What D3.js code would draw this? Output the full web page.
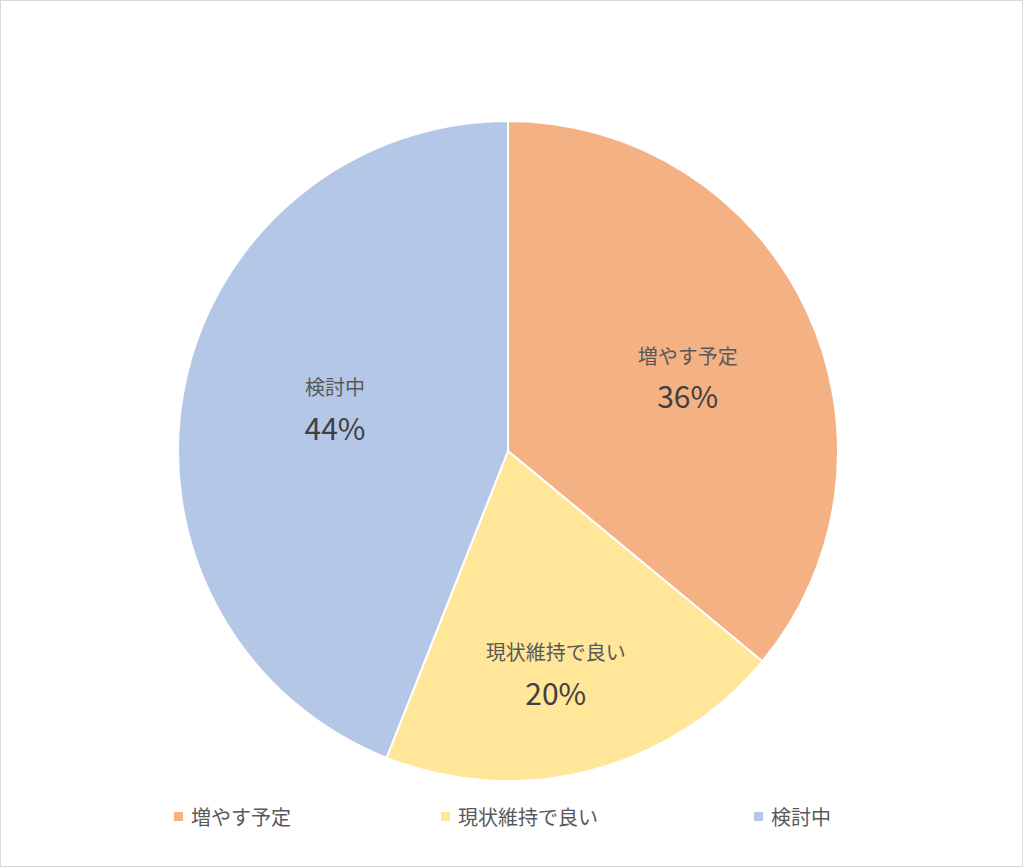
<!DOCTYPE html>
<html><head><meta charset="utf-8">
<script src="https://cdn.jsdelivr.net/npm/d3@7"></script>
<style>body{margin:0;background:#fff;}svg{display:block;font-family:"Noto Sans CJK JP","Noto Sans",sans-serif;}</style>
</head><body>
<svg id="c" width="1024" height="868"></svg>
<script>
const categories = ["増やす予定", "現状維持で良い", "検討中"];
const values = [36, 20, 44];
const colors = ["#F4B183", "#FFE699", "#B4C7E7"];
// label layout (radius as fraction of pie radius, angular nudge in degrees)
const labelRadiusRatio = [0.591, 0.685, 0.541];
const labelAngleNudge = [2.3, 2.2, 3.5];
const legendX = [174, 441, 754];

const svg = d3.select("#c");
svg.append("rect").attr("x",0.5).attr("y",0.5).attr("width",1022).attr("height",866)
  .attr("fill","#fff").attr("stroke","#d9d9d9");

const cx = 508, cy = 451, R = 330;
const pie = d3.pie().sort(null).value(d=>d)(values);
const arc = d3.arc().innerRadius(0).outerRadius(R);
const g = svg.append("g").attr("transform",`translate(${cx},${cy})`);
g.selectAll("path").data(pie).join("path")
  .attr("d",arc).attr("fill",(d,i)=>colors[i]).attr("stroke","#fff").attr("stroke-width",2);

pie.forEach((d,i)=>{
  const r = R*labelRadiusRatio[i];
  const a = (d.startAngle+d.endAngle)/2 + labelAngleNudge[i]*Math.PI/180;
  const x = r*Math.sin(a), y = -r*Math.cos(a);
  g.append("text").attr("x",x).attr("y",y-20).attr("text-anchor","middle").attr("dominant-baseline","central")
    .attr("font-size",20).attr("fill","#595959").text(categories[i]);
  g.append("text").attr("x",x).attr("y",y+20).attr("text-anchor","middle").attr("dominant-baseline","central")
    .attr("font-size",30).attr("fill","#404040").text(d3.format(".0%")(values[i]/100));
});

const lg = svg.append("g");
categories.forEach((c,i)=>{
  lg.append("rect").attr("x",legendX[i]).attr("y",812).attr("width",9).attr("height",9).attr("fill",colors[i]);
  lg.append("text").attr("x",legendX[i]+17).attr("y",816.5).attr("dominant-baseline","central")
    .attr("font-size",20).attr("fill","#595959").text(c);
});
</script>
</body></html>
